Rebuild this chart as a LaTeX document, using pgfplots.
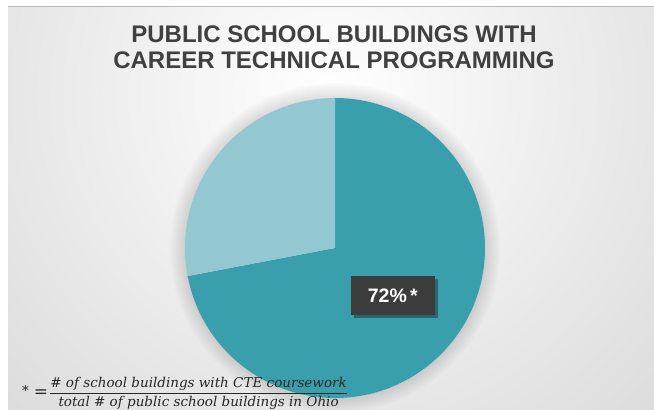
\documentclass[border=0pt]{standalone}
\usepackage{pgfplots}
\usepackage{pgfplotstable}
\pgfplotsset{compat=1.18}
\usepackage{fontspec}
\setmainfont{Liberation Sans}
\newfontfamily\fnfont{DejaVu Serif}

\definecolor{tealdark}{HTML}{3A9FAC}
\definecolor{teallight}{HTML}{93C8D2}
\definecolor{titlegray}{HTML}{404040}
\definecolor{boxgray}{HTML}{3C3C3C}
\definecolor{bgedge}{HTML}{BDBDBD}

% share of school buildings with CTE coursework
\pgfplotstableread{
group value
CTE 72
Other 28
}\piedata

\begin{document}
\begin{tikzpicture}
\useasboundingbox (0,0) rectangle (654pt,410pt);

% background
\fill[white] (0,0) rectangle (654pt,410pt);
\begin{scope}
  \clip (8pt,0) rectangle (654pt,403pt);
  \shade[inner color=white, outer color=bgedge] (330pt,315pt) circle (860pt);
\end{scope}
\draw[gray!55, line width=1pt] (8pt,403pt) -- (654pt,403pt);

% slice angles from the table
\pgfplotstablegetelem{0}{value}\of\piedata
\let\va\pgfplotsretval
\pgfplotstablegetelem{1}{value}\of\piedata
\let\vb\pgfplotsretval
\pgfmathsetmacro\angA{90-3.6*\va}
\pgfmathsetmacro\angB{90+3.6*\vb}
\pgfmathsetmacro\midA{90-1.8*\va}
\pgfmathsetmacro\lx{0.5*cos(\midA)}
\pgfmathsetmacro\ly{0.5*sin(\midA)}

\begin{axis}[
    hide axis,
    x=150pt, y=150pt,
    xmin=-1, xmax=1,
    ymin=-1, ymax=1,
    anchor=south west,
    at={(185pt,12pt)},
    clip=false,
]
% soft shadow round the pie
\pgfplotsinvokeforeach{151,153,155,157,159,161,163,165}{
  \fill[black, opacity=0.016] (axis cs:0,0) circle[radius=#1pt];
}
\fill[tealdark] (axis cs:0,0) -- (axis cs:0,1)
    arc[start angle=90, end angle=\angA, radius=150pt] -- cycle;
\fill[teallight] (axis cs:0,0) -- (axis cs:0,1)
    arc[start angle=90, end angle=\angB, radius=150pt] -- cycle;

% data label
\fill[black, opacity=0.35] ([xshift=3pt,yshift=-3pt]axis cs:\lx,\ly)
    +(-42pt,-19.5pt) rectangle +(42pt,19.5pt);
\node[fill=boxgray, text=white, font=\bfseries\fontsize{19.5}{22}\selectfont,
      minimum width=84pt, minimum height=39pt, inner sep=0pt]
    at (axis cs:\lx,\ly) {\va\%\,*};
\end{axis}

% title
\node[anchor=base, text=titlegray, font=\bfseries\fontsize{24}{28}\selectfont, inner sep=0]
  at (334pt,367pt) {PUBLIC SCHOOL BUILDINGS WITH};
\node[anchor=base, text=titlegray, font=\bfseries\fontsize{24}{28}\selectfont, inner sep=0]
  at (334pt,341pt) {CAREER TECHNICAL PROGRAMMING};

% footnote
\node[anchor=base west, inner sep=0, text=black!85, font=\fnfont\fontsize{13.5}{16}\selectfont]
  at (22pt,13pt)
  {\raisebox{1pt}{*}\hspace{5pt}\raisebox{-1pt}{\fontsize{17}{17}\selectfont=}\hspace{1pt}%
   $\displaystyle\frac{\hbox{\itshape\# of school buildings with CTE coursework}}
   {\hbox{\itshape total \# of public school buildings in Ohio}}$};
\end{tikzpicture}
\end{document}
